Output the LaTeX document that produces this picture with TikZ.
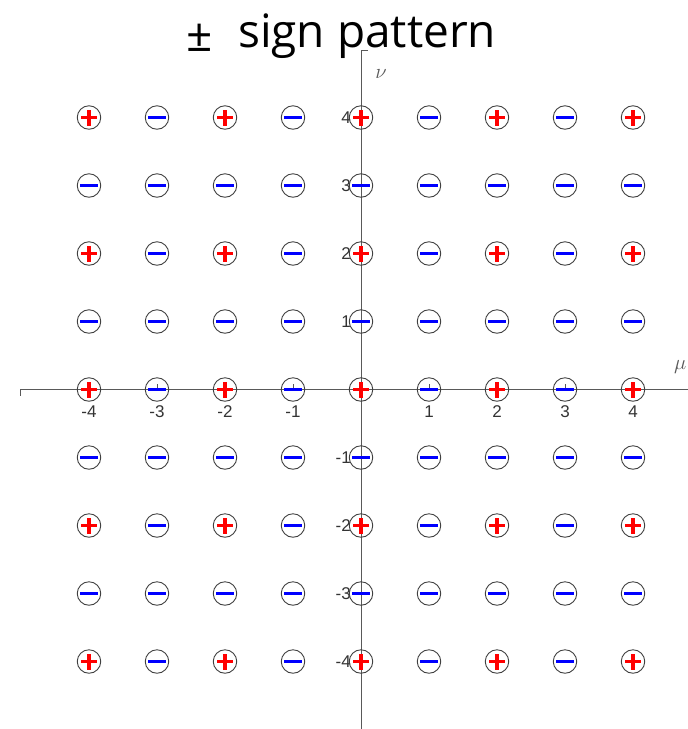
\documentclass[tikz,border=0pt]{standalone}
\usepackage{fontspec}
\setmainfont{Liberation Sans}
\newfontfamily\titlefont{Open Sans}
\newfontfamily\serifit{Liberation Serif}
\begin{document}
\begin{tikzpicture}[x=1pt,y=-1pt,
  axisline/.style={draw=black!65,line width=0.9pt},
  ring/.style={circle,draw=black!75,line width=0.9pt,minimum size=23.5pt,inner sep=0pt,fill=none},
  ticklab/.style={text=black!80,font=\fontsize{17}{17}\selectfont,inner sep=0pt}]
\useasboundingbox (0,0) rectangle (688,729);
\node[font=\titlefont\fontsize{46}{46}\selectfont,anchor=base west,inner sep=0pt] (title) at (238,47) {sign pattern};
\node[font=\titlefont\fontsize{46}{46}\selectfont,inner sep=0pt] (pmsign) at (200,38) {±};
% axes
\coordinate (xl) at (20,389.5);
\coordinate (xr) at (688,389.5);
\coordinate (yt) at (361,50);
\coordinate (yb) at (361,729);
\draw[axisline] ([yshift=-6]xl) -- (xl) -- (xr);
\draw[axisline] ([xshift=7]yt) -- (yt) -- (yb);
\node[text=black!65,font=\fontsize{21}{21}\selectfont] (nu) at (381,74) {$\nu$};
\node[text=black!65,font=\fontsize{21}{21}\selectfont,anchor=west,inner sep=0pt] (mu) at (674,367) {$\mu$};
% ticks
\foreach \i in {-4,...,4}{
  \draw[axisline] (361+68*\i,389.5) -- (361+68*\i,383.5);
  \draw[axisline] (361,389.5-68*\i) -- (367,389.5-68*\i);
}
% tick labels
\foreach \i in {-4,-3,-2,-1,1,2,3,4}{
  \node[ticklab] (xt\i) at (361+68*\i,412) {\i};
  \node[ticklab,anchor=east] (yt\i) at (351,389.5-68*\i) {\i};
}
% symbols
\foreach \m in {-4,...,4}{
  \foreach \n in {-4,...,4}{
    \pgfmathtruncatemacro{\pm}{(Mod(abs(\m),2)==0) && (Mod(abs(\n),2)==0)}
    \node[ring] (c\m\n) at (361+68*\m,389.5-68*\n) {};
    \ifnum\pm=1
      \draw[red,line width=3.4pt] ([xshift=-8]c\m\n.center) -- ([xshift=8]c\m\n.center);
      \draw[red,line width=3.4pt] ([yshift=-8]c\m\n.center) -- ([yshift=8]c\m\n.center);
    \else
      \draw[blue,line width=3.4pt] ([xshift=-9]c\m\n.center) -- ([xshift=9]c\m\n.center);
    \fi
  }
}
\end{tikzpicture}
\end{document}
